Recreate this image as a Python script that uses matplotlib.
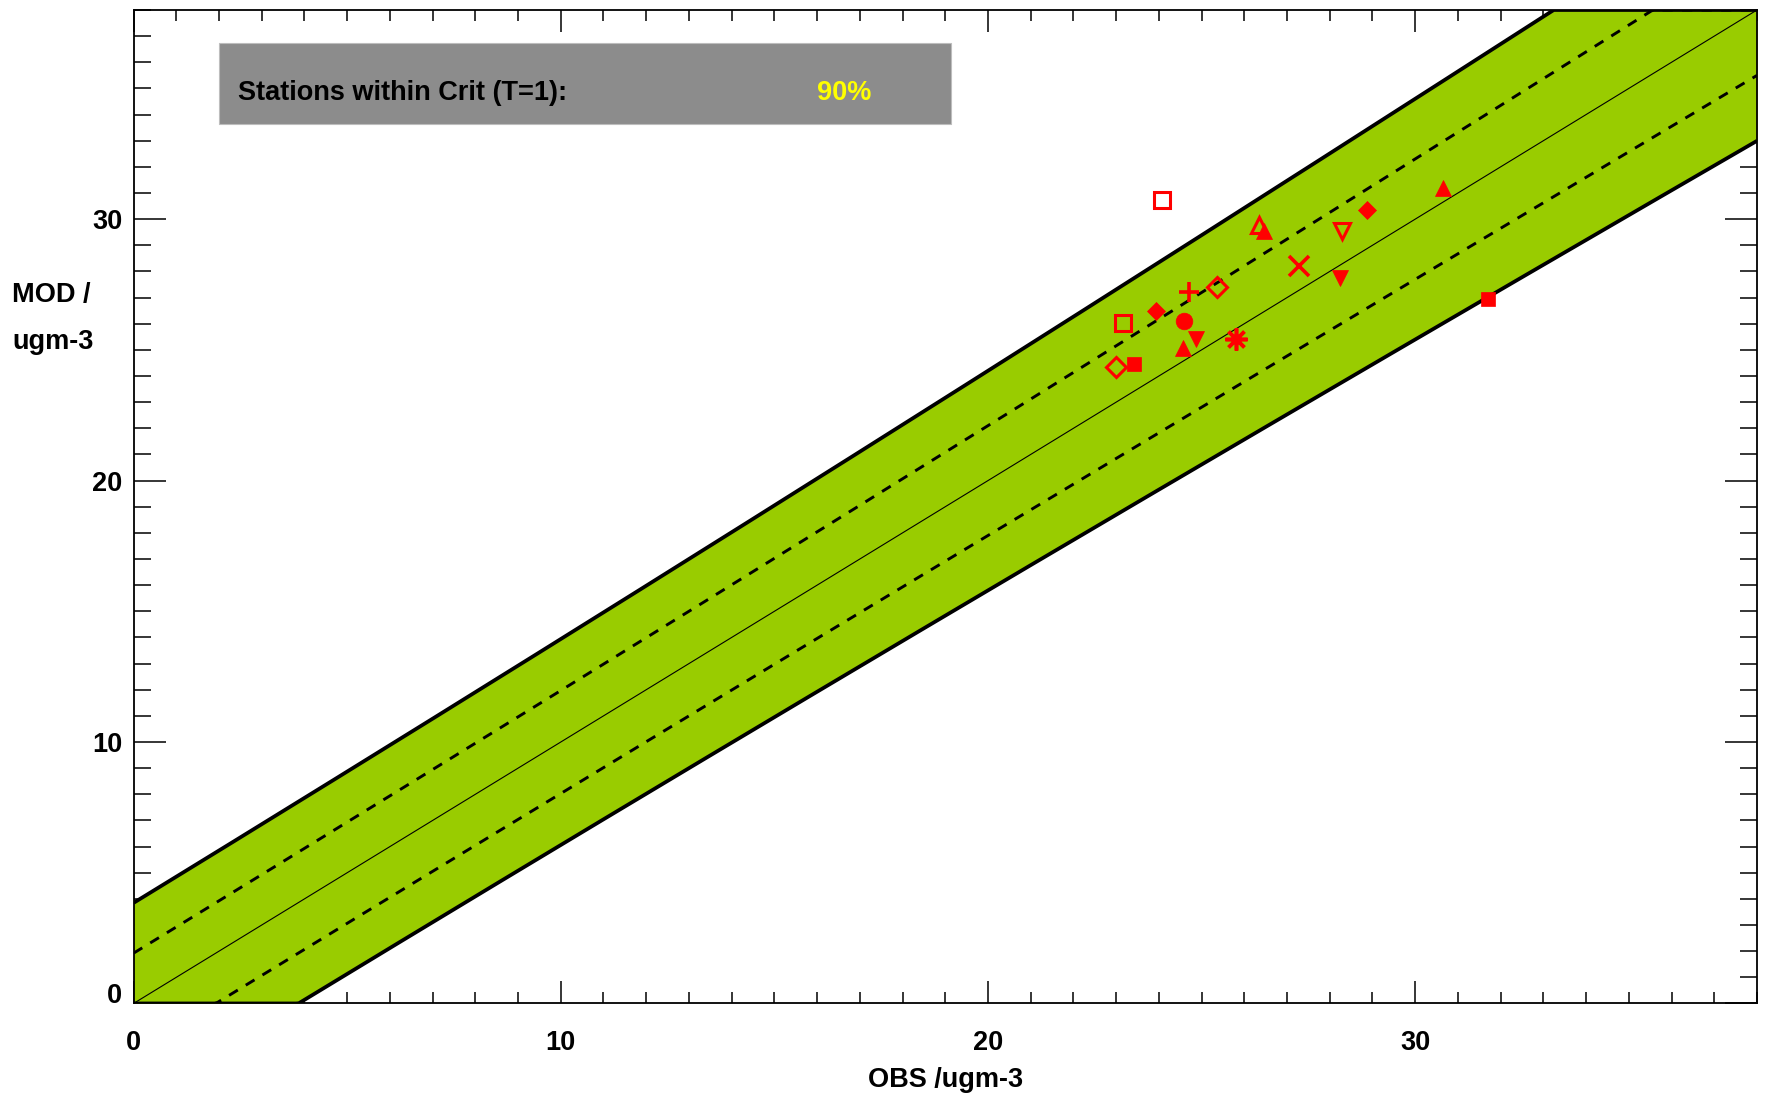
import numpy as np
import matplotlib
matplotlib.use("Agg")
import matplotlib.pyplot as plt
from matplotlib.ticker import MultipleLocator

# ---------------- data ----------------
obs = [24.08, 30.66, 28.88, 28.29, 26.35, 26.45, 27.27, 28.24, 24.70, 25.35,
       23.94, 23.16, 24.59, 24.86, 24.57, 25.81, 23.00, 23.42, 31.70]
mod = [30.72, 31.21, 30.35, 29.55, 29.77, 29.54, 28.19, 27.76, 27.21, 27.42,
       26.49, 26.04, 26.10, 25.40, 25.06, 25.40, 24.34, 24.45, 26.93]
symbols = ['s', '^', 'D', 'v', '^', '^', 'x', 'v', '+', 'D',
           'D', 's', 'o', 'v', '^', (8, 2, 0), 'D', 's', 's']
filled = [False, True, True, False, False, True, True, True, True, False,
          True, False, True, True, True, True, False, True, True]
sizes = [12, 11, 9, 12, 11, 11, 15, 12, 15, 10,
         9, 11, 12, 12, 11, 16, 10, 10.5, 10.5]

# criterion band parameters: half width d(O) = sqrt(A + B*O^2)
BAND_A = 14.8
BAND_B = 0.0071
LIM = 38.0
xticks = [0, 10, 20, 30]
yticks = [0, 10, 20, 30]
box_label = "Stations within Crit (T=1):"
box_value = "90%"

FS = 19.5

# ---------------- figure ----------------
plt.rcParams['font.family'] = ['Liberation Sans', 'DejaVu Sans']
fig = plt.figure(figsize=(17.69, 10.98), dpi=100)
ax = fig.add_axes([0.0755, 0.0861, 0.9177, 0.9048])
ax.set_xlim(0, LIM)
ax.set_ylim(0, LIM)

xx = np.linspace(0, LIM, 600)
d = np.sqrt(BAND_A + BAND_B * xx ** 2)
upper = np.clip(xx + d, 0, LIM)
lower = np.clip(xx - d, 0, LIM)
up_d = np.clip(xx + d / 2, 0, LIM)
lo_d = np.clip(xx - d / 2, 0, LIM)

green = '#99CC00'
ax.fill_between(xx, lower, upper, color=green, lw=0, zorder=1)
ax.plot(xx, upper, color='black', lw=2.7, zorder=2, solid_capstyle='butt')
ax.plot(xx, lower, color='black', lw=2.7, zorder=2, solid_capstyle='butt')
ax.plot(xx, up_d, color='black', lw=2.1, ls=(0, (3.5, 3.2)), zorder=2)
ax.plot(xx, lo_d, color='black', lw=2.1, ls=(0, (3.5, 3.2)), zorder=2)
ax.plot(xx, np.clip(xx, 0, LIM), color='black', lw=0.8, zorder=2)

for x, y, m, f, s in zip(obs, mod, symbols, filled, sizes):
    line_like = m in ('x', '+') or isinstance(m, tuple)
    if line_like:
        ax.plot([x], [y], marker=m, ms=s, mew=2.6, color='red',
                ls='none', zorder=5)
    elif f:
        ax.plot([x], [y], marker=m, ms=s, mew=0.5, mfc='red', mec='red',
                ls='none', zorder=5)
    else:
        ax.plot([x], [y], marker=m, ms=s, mew=2.2, mfc='none', mec='red',
                ls='none', zorder=5)

# ticks
ax.set_axisbelow(True)
ax.xaxis.set_major_locator(MultipleLocator(10))
ax.xaxis.set_minor_locator(MultipleLocator(1))
ax.yaxis.set_major_locator(MultipleLocator(10))
ax.yaxis.set_minor_locator(MultipleLocator(1))
ax.set_xticks(xticks)
ax.set_yticks(yticks)
ax.set_xticklabels([str(t) for t in xticks])
ax.set_yticklabels([str(t) for t in yticks])
ax.tick_params(axis='x', which='major', direction='in', length=15.5, width=1.1,
               top=True, bottom=True, labelsize=FS, pad=19)
ax.tick_params(axis='x', which='minor', direction='in', length=7.8, width=1.1,
               top=True, bottom=True)
ax.tick_params(axis='y', which='major', direction='in', length=23, width=1.1,
               left=True, right=True, labelsize=FS, pad=8)
ax.tick_params(axis='y', which='minor', direction='in', length=12, width=1.1,
               left=True, right=True)
for lab in ax.get_xticklabels() + ax.get_yticklabels():
    lab.set_fontweight('bold')
ax.yaxis.get_major_ticks()[0].label1.set_verticalalignment('baseline')
for sp in ax.spines.values():
    sp.set_linewidth(1.3)
    sp.set_zorder(3)

ax.set_xlabel("OBS /ugm-3", fontsize=FS, fontweight='bold', va='center')
ax.xaxis.set_label_coords(0.5, -0.077)
ax.set_ylabel("MOD /\nugm-3", fontsize=FS, fontweight='bold', rotation=0,
              ha='left', va='center', linespacing=2.05)
ax.yaxis.set_label_coords(-0.0748, 0.689)

# criterion box
ax.add_patch(plt.Rectangle((0.0527, 0.8853), 0.5035 - 0.0527, 0.9668 - 0.8853,
                           transform=ax.transAxes, facecolor='#8C8C8C',
                           edgecolor='#BDBDBD', lw=0.8, zorder=6))
ax.text(0.0644, 0.9165, box_label, transform=ax.transAxes, fontsize=FS,
        fontweight='bold', color='black', ha='left', va='center', zorder=7)
ax.text(0.4376, 0.9165, box_value, transform=ax.transAxes, fontsize=FS,
        fontweight='bold', color='#FFFF00', ha='center', va='center', zorder=7)

fig.savefig("out.png", dpi=100)
